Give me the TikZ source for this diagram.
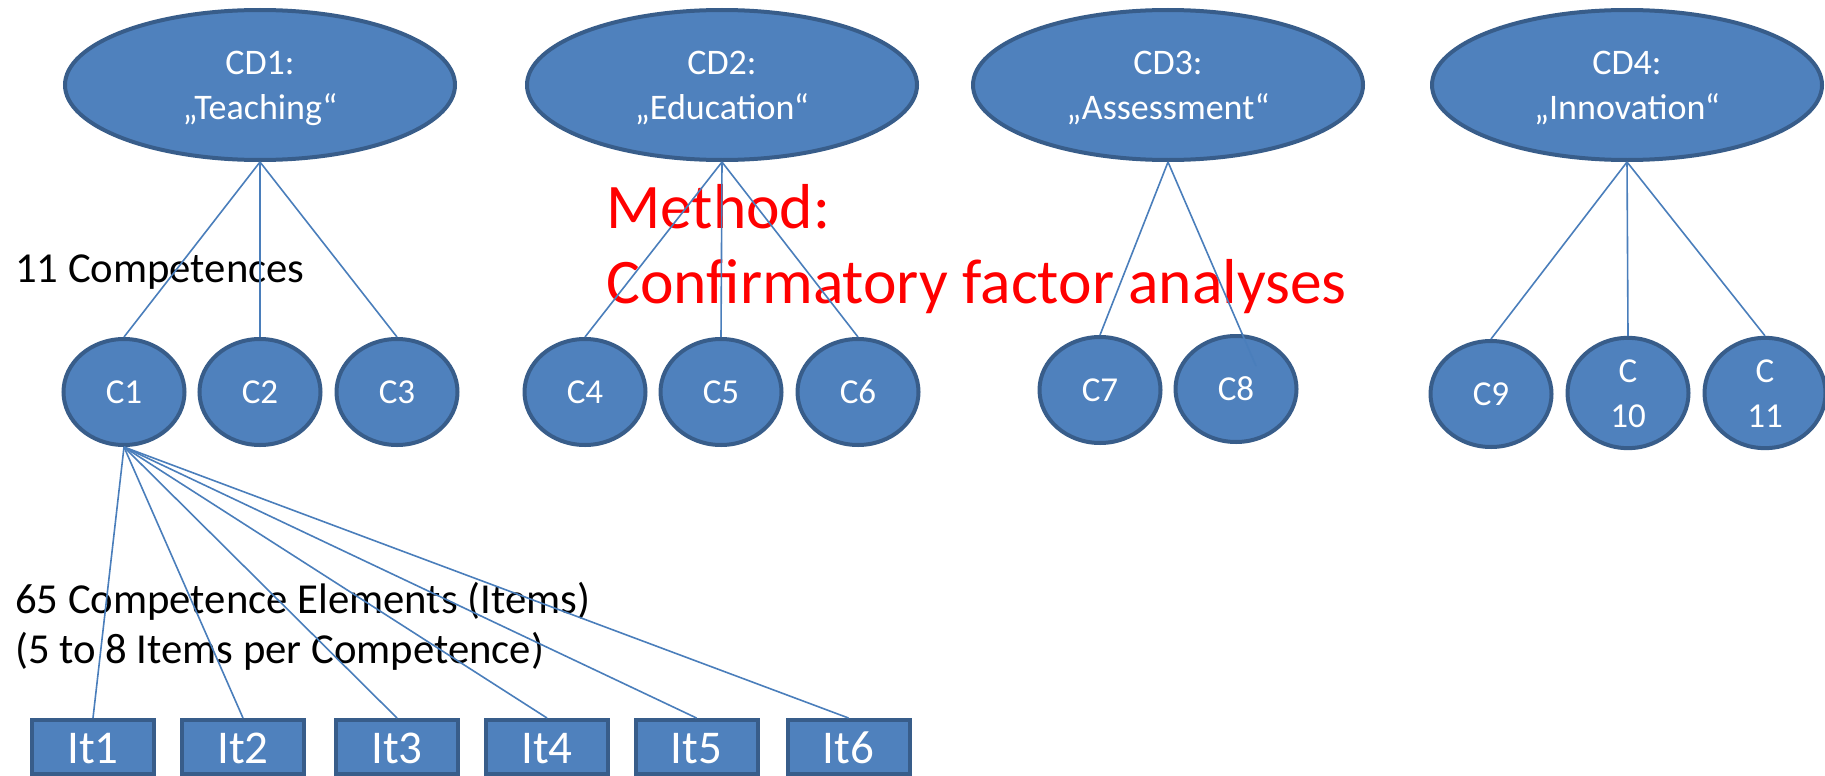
\documentclass[tikz,border=0pt]{standalone}
\usepackage{fontspec}
\setmainfont{Carlito}
\usetikzlibrary{shapes.geometric}
\definecolor{boxfill}{HTML}{4F81BD}
\definecolor{boxline}{HTML}{385D8A}
\definecolor{linkline}{HTML}{4A7EBB}
\definecolor{methodred}{HTML}{FF0000}
% struts give every line of a label the same height and depth
\newcommand\cdstrut{\rule[-5pt]{0pt}{35pt}}
\newcommand\cstrut{\rule[-5pt]{0pt}{33pt}}
\newcommand\itstrut{\rule[-6pt]{0pt}{44pt}}
\newcommand\lblstrut{\rule[-10pt]{0pt}{42pt}}
\newcommand\redstrut{\rule[-15pt]{0pt}{60pt}}
\begin{document}
\begin{tikzpicture}[x=1pt,y=-1pt,
  cdnode/.style={ellipse, draw=boxline, fill=boxfill, line width=4pt,
    minimum width=390pt, minimum height=150pt, inner sep=0pt,
    text=white, align=center, font=\fontsize{36}{45}\selectfont},
  cnode/.style={ellipse, draw=boxline, fill=boxfill, line width=4pt,
    minimum width=121pt, minimum height=106pt, inner sep=0pt,
    text=white, align=center, font=\fontsize{35}{45}\selectfont},
  itnode/.style={rectangle, draw=boxline, fill=boxfill, line width=4pt,
    minimum width=122pt, minimum height=54pt, inner sep=0pt,
    text=white, font=\fontsize{47}{56}\selectfont},
  link/.style={draw=linkline, line width=1.6pt},
  lbl/.style={inner sep=0pt, align=left, font=\fontsize{42.7}{50}\selectfont}
]
\useasboundingbox (0,0) rectangle (1825,776);
\clip (0,0) rectangle (1825,776);

% level captions
\node[lbl, anchor=base west] (capc) at (15,282) {11 Competences};
\node[lbl, anchor=north west] (capit) at (15,581)
  {\lblstrut 65 Competence Elements (Items)\\\lblstrut (5 to 8 Items per Competence)};
\node[inner sep=0pt, anchor=north west, align=left, text=methodred,
  font=\fontsize{63.5}{75}\selectfont] (method) at (606,183)
  {\redstrut Method:\\\redstrut Confirmatory factor analyses};

% competence domains
\node[cdnode] (cd1) at (260,85)  {\cdstrut CD1:\\\cdstrut „Teaching“};
\node[cdnode] (cd2) at (722,85)  {\cdstrut CD2:\\\cdstrut „Education“};
\node[cdnode] (cd3) at (1168,85) {\cdstrut CD3:\\\cdstrut „Assessment“};
\node[cdnode] (cd4) at (1627,85) {\cdstrut CD4:\\\cdstrut „Innovation“};

% competences
\node[cnode] (c1)  at (124,392)  {\cstrut C1};
\node[cnode] (c2)  at (260,392)  {\cstrut C2};
\node[cnode] (c3)  at (397,392)  {\cstrut C3};
\node[cnode] (c4)  at (585,392)  {\cstrut C4};
\node[cnode] (c5)  at (721,392)  {\cstrut C5};
\node[cnode] (c6)  at (858,392)  {\cstrut C6};
\node[cnode] (c7)  at (1100,390) {\cstrut C7};
\node[cnode] (c8)  at (1236,389) {\cstrut C8};
\node[cnode] (c9)  at (1491,394) {\cstrut C9};
\node[cnode] (c10) at (1628,393) {\cstrut C\\\cstrut 10};
\node[cnode] (c11) at (1765,393) {\cstrut C\\\cstrut 11};

% items of C1
\node[itnode] (it1) at (93,747)    {\itstrut It1};
\node[itnode] (it2) at (243,747)   {\itstrut It2};
\node[itnode] (it3) at (397,747)   {\itstrut It3};
\node[itnode] (it4) at (547,747)   {\itstrut It4};
\node[itnode] (it5) at (696.5,747) {\itstrut It5};
\node[itnode] (it6) at (848.5,747) {\itstrut It6};

\coordinate (c8end) at (1256,366);

% connectors
\foreach \c in {c1,c2,c3} \draw[link] (cd1.south) -- (\c.north);
\foreach \c in {c4,c5,c6} \draw[link] (cd2.south) -- (\c.north);
\draw[link] (cd3.south) -- (c7.north);
\draw[link] (cd3.south) -- (c8end);
\foreach \c in {c9,c10,c11} \draw[link] (cd4.south) -- (\c.north);
\foreach \i in {it1,it2,it3,it4,it5,it6} \draw[link] (c1.south) -- (\i.north);
\end{tikzpicture}
\end{document}
